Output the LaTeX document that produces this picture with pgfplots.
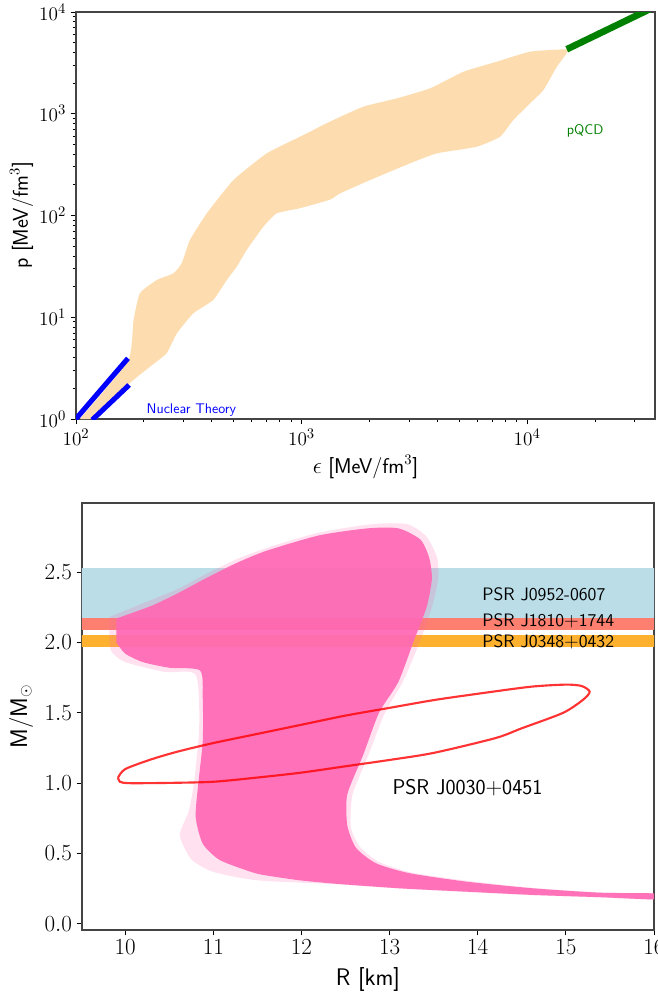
\documentclass[border=0pt]{standalone}
\usepackage{pgfplots}
\pgfplotsset{compat=1.18}

\definecolor{eosband}{HTML}{FDDDAF}
\definecolor{mplblue}{HTML}{0000FF}
\definecolor{mplgreen}{HTML}{008000}
\definecolor{mrpink}{HTML}{FF69B4}
\definecolor{bandblue}{HTML}{BADDE7}
\definecolor{bandred}{HTML}{FD7F6F}
\definecolor{bandorange}{HTML}{FEB12F}
\definecolor{framegray}{HTML}{444444}

\begin{document}
\begin{tikzpicture}
\useasboundingbox (0,0) rectangle (492.75pt,-752.25pt);

% ---- top panel: p(epsilon)
\begin{axis}[
    at={(57pt,-9pt)}, anchor=north west,
    scale only axis, width=434.25pt, height=305.25pt,
    xmode=log, ymode=log,
    xmin=100, xmax=36900, ymin=1, ymax=10000,
    axis line style={framegray, line width=0.9pt},
    tick pos=left, tick align=outside,
    major tick length=4pt, minor tick length=2.5pt,
    every tick/.style={black, line width=0.7pt},
    tick label style={font=\fontsize{15}{18}\selectfont},
    xlabel={$\epsilon$ \textsf{[MeV/fm$^3$]}},
    ylabel={\textsf{p [MeV/fm$^3$]}},
    label style={font=\fontsize{16}{19}\selectfont},
    xlabel style={at={(axis description cs:0.5,-0.118)}, anchor=center},
    ylabel style={at={(axis description cs:-0.094,0.5)}, anchor=center},
]
\addplot[fill=eosband, draw=none, smooth, tension=0.3] coordinates {
  (104,1.0) (170,3.7) (180,9.4) (192,17.2) (228,23.2) (270,27) (294,33.9)
  (320,57.4) (380,105) (499,223) (701,408) (985,595) (1336,836) (1879,1173)
  (2642,1416) (3714,1778) (5222,2589) (7340,3250) (10310,4075) (14990,4300)
  (14990,3930) (13550,2900) (11810,1710) (10310,1268) (8690,868) (7590,595)
  (5980,474) (3980,408) (3030,326) (2013,223) (1482,165) (1336,143) (985,118)
  (776,105) (677,77.6) (571,45.8) (516,31.4) (466,23.2) (406,14.8) (331,10.9)
  (280,6.95) (252,4.42) (213,3.27) (173,2.24) (123.5,1.0)
};
\addplot[mplblue, line width=3.8pt] coordinates {(99,0.98) (170,3.95)};
\addplot[mplblue, line width=3.8pt] coordinates {(118,0.98) (172,2.16)};
\addplot[mplgreen, line width=5pt] coordinates {(14990,4300) (36000,11000)};
\node[mplblue, anchor=west, font=\sffamily\fontsize{10.5}{12}\selectfont]
  at (axis cs:196,1.22) {Nuclear Theory};
\node[mplgreen, font=\sffamily\fontsize{10.5}{12}\selectfont]
  at (axis cs:18070,677) {pQCD};
\end{axis}

% ---- bottom panel: M(R)
\begin{axis}[
    at={(61.5pt,-377.25pt)}, anchor=north west,
    scale only axis, width=429pt, height=320.25pt,
    xmin=9.51, xmax=16, ymin=-0.043, ymax=2.99,
    axis line style={framegray, line width=0.9pt},
    tick pos=left, tick align=outside,
    major tick length=4pt,
    every tick/.style={black, line width=0.7pt},
    tick label style={font=\fontsize{18}{21}\selectfont},
    xtick={10,11,12,13,14,15,16},
    ytick={0,0.5,1,1.5,2,2.5},
    yticklabel style={/pgf/number format/fixed, /pgf/number format/fixed zerofill,
      /pgf/number format/precision=1},
    xlabel={\textsf{R [km]}},
    ylabel={\textsf{M/M$_\odot$}},
    label style={font=\fontsize{18}{21}\selectfont},
    xlabel style={at={(axis description cs:0.5,-0.117)}, anchor=center},
    ylabel style={at={(axis description cs:-0.1066,0.5)}, anchor=center},
]
% mass bands
\addplot[fill=bandblue, draw=none] coordinates {(9.4,2.175) (16.2,2.175) (16.2,2.53) (9.4,2.53)};
\addplot[fill=bandred, draw=none] coordinates {(9.4,2.09) (16.2,2.09) (16.2,2.175) (9.4,2.175)};
\addplot[fill=bandorange, draw=none] coordinates {(9.4,1.97) (16.2,1.97) (16.2,2.05) (9.4,2.05)};
% M-R curves: faint envelope
\addplot[fill=mrpink, fill opacity=0.2, draw=none, smooth, tension=0.4] coordinates {
  (9.82,2.18) (10.25,2.29) (10.6,2.38) (10.9,2.48) (11.3,2.6) (11.7,2.69)
  (12.2,2.78) (12.8,2.84) (13.2,2.84) (13.42,2.75) (13.54,2.6) (13.55,2.45)
  (13.48,2.25) (13.34,2.0) (13.15,1.72) (12.94,1.49) (12.76,1.2) (12.58,0.92)
  (12.56,0.69) (12.66,0.55) (12.88,0.44) (13.25,0.365) (13.9,0.305) (14.63,0.256)
  (15.39,0.224) (16.1,0.217) (16.1,0.172) (15.39,0.188) (14.63,0.204)
  (13.88,0.227) (13.12,0.251) (12.4,0.282) (11.5,0.31) (11.0,0.37) (10.75,0.46)
  (10.62,0.63) (10.72,0.8) (10.78,1.0) (10.84,1.4) (10.8,1.77) (10.45,1.79)
  (10.0,1.86) (9.85,1.93) (9.82,2.0)
};
% M-R curves: dense core
\addplot[fill=mrpink, fill opacity=0.93, draw=none, smooth, tension=0.4] coordinates {
  (9.9,2.17) (10.3,2.26) (10.6,2.35) (10.9,2.45) (11.25,2.56) (11.6,2.65)
  (12.2,2.76) (12.75,2.81) (13.1,2.81) (13.35,2.73) (13.45,2.6) (13.48,2.45)
  (13.42,2.25) (13.28,2.02) (13.1,1.72) (12.88,1.5) (12.7,1.2) (12.52,0.92)
  (12.52,0.7) (12.62,0.54) (12.85,0.43) (13.23,0.36) (13.88,0.30) (14.63,0.253)
  (15.39,0.222) (16.1,0.215) (16.1,0.173) (15.39,0.19) (14.63,0.206)
  (13.88,0.229) (13.12,0.253) (12.4,0.285) (11.98,0.31) (11.55,0.35)
  (11.38,0.38) (11.07,0.455) (10.88,0.57) (10.8,0.76) (10.83,1.0) (10.88,1.3)
  (10.88,1.6) (10.85,1.8) (10.5,1.82) (10.2,1.86) (10.0,1.92) (9.9,2.0)
};
% NICER contour
\addplot[red, line width=1.6pt, draw opacity=0.8, smooth, tension=0.45] coordinates {
  (9.92,1.04) (10.0,1.10) (10.3,1.17) (10.6,1.225) (11.0,1.285) (11.5,1.35)
  (12.0,1.415) (12.5,1.48) (13.0,1.535) (13.5,1.59) (14.0,1.635) (14.6,1.685)
  (15.0,1.70) (15.18,1.69) (15.27,1.65) (15.2,1.595) (14.97,1.50) (14.5,1.39)
  (14.2,1.32) (13.5,1.215) (13.0,1.165) (12.5,1.12) (12.0,1.075) (11.5,1.04)
  (11.0,1.01) (10.5,1.002) (10.05,1.0) (9.94,1.01) (9.92,1.04)
};
\node[anchor=west, font=\sffamily\fontsize{13.5}{16}\selectfont] at (axis cs:14.0,2.344) {PSR J0952-0607};
\node[anchor=west, font=\sffamily\fontsize{13.5}{16}\selectfont] at (axis cs:14.0,2.152) {PSR J1810$+$1744};
\node[anchor=west, font=\sffamily\fontsize{13.5}{16}\selectfont] at (axis cs:14.0,2.003) {PSR J0348$+$0432};
\node[anchor=west, font=\sffamily\fontsize{16}{19}\selectfont] at (axis cs:12.98,0.966) {PSR J0030$+$0451};
\end{axis}
\end{tikzpicture}
\end{document}
